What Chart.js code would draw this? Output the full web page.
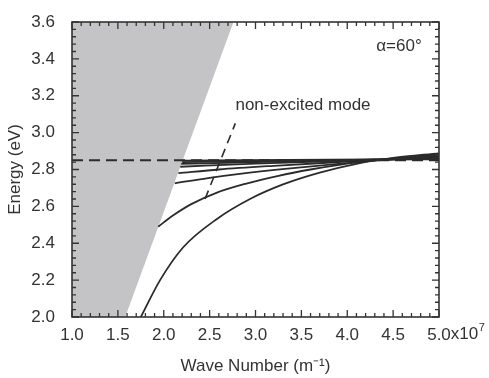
<!DOCTYPE html>
<html>
<head>
<meta charset="utf-8">
<script src="https://cdn.jsdelivr.net/npm/chart.js@4/dist/chart.umd.min.js"></script>
<style>
  html, body { margin: 0; padding: 0; background: #fff; }
  #wrap { width: 489px; height: 378px; }
</style>
</head>
<body>
<div id="wrap"><canvas id="chart" width="489" height="378"></canvas></div>
<script>
// light-line boundary (shaded region to its left)
const lightK = [1.0, 1.58, 2.76];
const lightE = [2.0, 2.0, 3.6];

// surface-plasmon asymptote
const asymK = [1.0, 5.0];
const asymE = [2.85, 2.85];

// "non-excited mode" marker
const markK = [2.45, 2.78];
const markE = [2.64, 3.05];

// dispersion branches, lowest first
const kA = [1.75, 1.96, 2.21, 2.58, 2.94, 3.3, 3.7, 4.1, 4.5, 5.0];
const eA = [2.0, 2.2, 2.377, 2.532, 2.64, 2.719, 2.783, 2.831, 2.863, 2.888];
const kB = [1.94, 2.1, 2.3, 2.58, 2.9, 3.25, 3.6, 3.95, 4.3, 4.6, 5.0];
const eB = [2.49, 2.55, 2.612, 2.675, 2.724, 2.766, 2.80, 2.828, 2.849, 2.866, 2.882];
const kC = [2.12, 2.5, 2.85, 3.35, 3.9, 4.3, 5.0];
const eC = [2.725, 2.755, 2.778, 2.805, 2.83, 2.848, 2.876];
const kD = [2.16, 2.6, 3.2, 3.9, 4.3, 5.0];
const eD = [2.78, 2.80, 2.82, 2.84, 2.851, 2.87];
const kE = [2.18, 3.0, 3.9, 4.3, 5.0];
const eE = [2.815, 2.832, 2.846, 2.853, 2.865];
const kF = [2.19, 3.0, 4.3, 5.0];
const eF = [2.83, 2.84, 2.853, 2.86];
const kG = [2.2, 4.3, 5.0];
const eG = [2.84, 2.854, 2.857];
const kH = [2.205, 4.3, 5.0];
const eH = [2.848, 2.855, 2.855];

const xTicks = [1.0, 1.5, 2.0, 2.5, 3.0, 3.5, 4.0, 4.5, 5.0];
const yTicks = [2.0, 2.2, 2.4, 2.6, 2.8, 3.0, 3.2, 3.4, 3.6];

const pts = (ks, es) => ks.map((k, i) => ({ x: k, y: es[i] }));
const ink = '#2b2b2b';

const branch = (ks, es) => ({
  data: pts(ks, es),
  borderColor: ink,
  borderWidth: 1.8,
  pointRadius: 0,
  cubicInterpolationMode: 'monotone',
  fill: false,
});

const branches = [[kA, eA], [kB, eB], [kC, eC], [kD, eD], [kE, eE], [kF, eF], [kG, eG], [kH, eH]];

// frame, inward ticks, annotations
const framePlugin = {
  id: 'frame',
  afterDatasetsDraw(chart) {
    const { ctx, chartArea: { left, right, top, bottom }, scales: { x, y } } = chart;
    ctx.save();
    ctx.strokeStyle = '#333';
    ctx.lineWidth = 1.6;
    ctx.strokeRect(left, top, right - left, bottom - top);
    ctx.lineWidth = 1.3;
    ctx.beginPath();
    for (let i = 0; i <= 40; i++) {
      const v = 1.0 + i * 0.1;
      const px = x.getPixelForValue(v);
      const len = i % 5 === 0 ? 7 : 4;
      ctx.moveTo(px, bottom); ctx.lineTo(px, bottom - len);
      ctx.moveTo(px, top); ctx.lineTo(px, top + len);
    }
    for (let i = 0; i <= 40; i++) {
      const v = 2.0 + i * 0.04;
      const py = y.getPixelForValue(v);
      const len = i % 5 === 0 ? 7 : 4;
      ctx.moveTo(left, py); ctx.lineTo(left + len, py);
      ctx.moveTo(right, py); ctx.lineTo(right - len, py);
    }
    ctx.stroke();

    ctx.fillStyle = '#333';
    ctx.font = '17px "Liberation Sans", Arial, sans-serif';
    ctx.textBaseline = 'middle';
    ctx.textAlign = 'left';
    // exponent on the last tick label
    const p5 = x.getPixelForValue(5.0);
    const half = ctx.measureText('5.0').width / 2;
    const ly = bottom + 17;
    ctx.fillText('x10', p5 + half, ly);
    const w10 = ctx.measureText('x10').width;
    ctx.font = '11px "Liberation Sans", Arial, sans-serif';
    ctx.fillText('7', p5 + half + w10 + 0.5, ly - 6);

    ctx.font = '17px "Liberation Sans", Arial, sans-serif';
    ctx.textAlign = 'center';
    ctx.fillText('α=60°', 399, 46);
    ctx.fillText('non-excited mode', 303, 105);
    ctx.restore();
  },
};

Chart.defaults.font.family = '"Liberation Sans", Arial, sans-serif';
Chart.defaults.font.size = 17;
Chart.defaults.color = '#333';

new Chart(document.getElementById('chart'), {
  type: 'line',
  data: {
    datasets: [
      {
        data: pts(asymK, asymE),
        borderColor: ink,
        borderWidth: 2,
        borderDash: [11, 6],
        pointRadius: 0,
        fill: false,
      },
      {
        data: pts(markK, markE),
        borderColor: ink,
        borderWidth: 1.6,
        borderDash: [9, 6],
        pointRadius: 0,
        fill: false,
      },
      ...branches.map(([k, e]) => branch(k, e)),
      {
        data: pts(lightK, lightE),
        borderWidth: 0,
        borderColor: 'rgba(0,0,0,0)',
        backgroundColor: '#c4c4c6',
        pointRadius: 0,
        fill: 'end',
        order: 10,
      },
    ],
  },
  options: {
    responsive: false,
    animation: false,
    events: [],
    layout: { padding: { top: 22, right: 50, left: 0, bottom: 0 } },
    plugins: { legend: { display: false }, tooltip: { enabled: false } },
    scales: {
      x: {
        type: 'linear',
        min: 1.0,
        max: 5.0,
        afterFit: (s) => { s.height = 61; },
        afterBuildTicks: (s) => { s.ticks = xTicks.map((v) => ({ value: v })); },
        grid: { display: false },
        border: { display: false },
        ticks: { padding: 0, maxRotation: 0, callback: (v) => v.toFixed(1) },
        title: { display: true, text: 'Wave Number (m⁻¹)', padding: { top: 0, bottom: 1 } },
      },
      y: {
        min: 2.0,
        max: 3.6,
        afterFit: (s) => { s.width = 72; },
        afterBuildTicks: (s) => { s.ticks = yTicks.map((v) => ({ value: v })); },
        grid: { display: false },
        border: { display: false },
        ticks: { padding: 9, callback: (v) => v.toFixed(1) },
        title: { display: true, text: 'Energy (eV)', padding: { top: 5, bottom: 0 } },
      },
    },
  },
  plugins: [framePlugin],
});
</script>
</body>
</html>
